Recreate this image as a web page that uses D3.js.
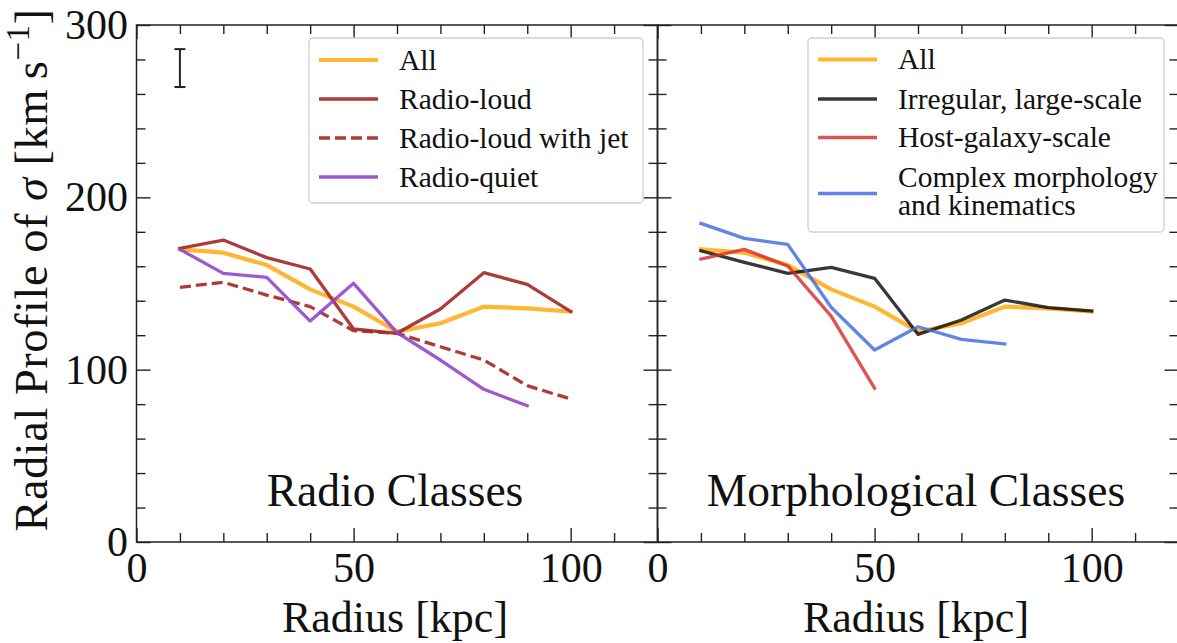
<!DOCTYPE html>
<html>
<head>
<meta charset="utf-8">
<script src="https://cdn.jsdelivr.net/npm/d3@7"></script>
<style>
  html, body { margin: 0; padding: 0; background: #fff; }
</style>
</head>
<body>
<svg id="chart" width="1177" height="643"></svg>
<script>
// ---------------- data ----------------
const radii = [10, 20, 30, 40, 50, 60, 70, 80, 90, 100];
const allSigma      = [169.8, 167.9, 160.7, 146.6, 136.6, 122.1, 126.9, 136.6, 135.6, 133.7];
const radioLoud     = [170.4, 175.2, 165.0, 158.4, 123.6, 121.1, 135.2, 156.3, 149.5, 133.7];
const radioLoudJet  = [147.8, 150.7, 143.3, 136.6, 122.6, 121.1, 113.3, 105.6, 90.7, 83.0];
const radioQuiet    = [169.8, 155.9, 153.6, 128.2, 150.1, 121.5, 105.6, 88.6, 79.1];
const irregular     = [169.0, 162.3, 155.9, 159.4, 153.0, 120.5, 128.8, 140.4, 136.0, 134.0];
const hostGalaxy    = [164.2, 169.8, 160.2, 131.1, 89.2];
const complexMorph  = [184.9, 176.2, 172.7, 136.2, 111.4, 124.9, 117.6, 114.9];

const leftLabels  = ["All", "Radio-loud", "Radio-loud with jet", "Radio-quiet"];
const rightLabels = ["All", "Irregular, large-scale", "Host-galaxy-scale", ["Complex morphology", "and kinematics"]];
const panelTitles = ["Radio Classes", "Morphological Classes"];
const xMajorTicks = [0, 50, 100];
const xMinorTicks = [10, 20, 30, 40, 60, 70, 80, 90, 110];
const yMajorTicks = [0, 100, 200, 300];
const yMinorTicks = [20, 40, 60, 80, 120, 140, 160, 180, 220, 240, 260, 280];
const errorBar = { x: 10, y: 275, half: 11 };

// ---------------- styles ----------------
const FONT = '"Liberation Serif"';
const styles = {
  all:   { color: "#FFA500", width: 4.2, opacity: 0.8, dash: null },
  loud:  { color: "#A52A2A", width: 3.3, opacity: 0.92, dash: null },
  jet:   { color: "#A52A2A", width: 3.3, opacity: 0.92, dash: "11,5" },
  quiet: { color: "#9148CC", width: 3.3, opacity: 0.9, dash: null },
  irr:   { color: "#000000", width: 3.3, opacity: 0.78, dash: null },
  host:  { color: "#D62728", width: 3.3, opacity: 0.8, dash: null },
  cplx:  { color: "#4169E1", width: 3.3, opacity: 0.82, dash: null }
};

const leftSeries = [
  { vals: allSigma, st: styles.all },
  { vals: radioLoud, st: styles.loud },
  { vals: radioLoudJet, st: styles.jet },
  { vals: radioQuiet, st: styles.quiet }
];
const rightSeries = [
  { vals: allSigma, st: styles.all },
  { vals: irregular, st: styles.irr },
  { vals: hostGalaxy, st: styles.host },
  { vals: complexMorph, st: styles.cplx }
];

const svg = d3.select("#chart");
svg.append("rect").attr("width", 1177).attr("height", 643).attr("fill", "#fff");

const yTop = 25, yBot = 542;
const y = d3.scaleLinear().domain([0, 300]).range([yBot, yTop]);
const panels = [
  { x0: 136.5, x1: 657.5, series: leftSeries, labels: leftLabels, styles: [styles.all, styles.loud, styles.jet, styles.quiet],
    legend: { x: 309, y: 38, w: 334, h: 165, rows: [60, 99, 138, 177] }, showYLabels: true, title: panelTitles[0] },
  { x0: 657.5, x1: 1178.5, series: rightSeries, labels: rightLabels, styles: [styles.all, styles.irr, styles.host, styles.cplx],
    legend: { x: 808, y: 38, w: 356, h: 194, rows: [59.5, 99, 137.5, 193.5] }, showYLabels: false, title: panelTitles[1] }
];

const axisColor = "#222";
const tickFont = 42;

function styleAxis(g) {
  g.select(".domain").remove();
  g.attr("font-family", null);
  g.selectAll(".tick line").attr("stroke", axisColor).attr("stroke-width", 1.4);
  g.selectAll(".tick text").attr("fill", "#111").style("font-family", FONT).style("font-size", tickFont + "px");
}

function txt(sel, size) {
  return sel.style("font-family", FONT).style("font-size", size + "px").attr("fill", "#111");
}

panels.forEach((p, pi) => {
  const x = d3.scaleLinear().domain([0, 120]).range([p.x0, p.x1]);
  const g = svg.append("g");

  // lines
  const line = d3.line().x((d, i) => x(radii[i])).y(d => y(d));
  p.series.forEach(s => {
    g.append("path")
      .attr("d", line(s.vals))
      .attr("fill", "none")
      .attr("stroke", s.st.color)
      .attr("stroke-opacity", s.st.opacity)
      .attr("stroke-width", s.st.width)
      .attr("stroke-linejoin", "round")
      .attr("stroke-linecap", s.st.dash ? "butt" : "square")
      .attr("stroke-dasharray", s.st.dash);
  });

  // axes ticks (inward on all sides)
  const bottomMajor = d3.axisBottom(x).tickValues(xMajorTicks).tickSize(-14).tickSizeOuter(0).tickPadding(10).tickFormat(d3.format("d"));
  const bottomMinor = d3.axisBottom(x).tickValues(xMinorTicks).tickSize(-9).tickSizeOuter(0).tickFormat("");
  const topMajor = d3.axisTop(x).tickValues(xMajorTicks).tickSize(-14).tickSizeOuter(0).tickFormat("");
  const topMinor = d3.axisTop(x).tickValues(xMinorTicks).tickSize(-9).tickSizeOuter(0).tickFormat("");
  const leftMajor = d3.axisLeft(y).tickValues(yMajorTicks).tickSize(-14).tickSizeOuter(0).tickPadding(8.5)
      .tickFormat(p.showYLabels ? d3.format("d") : "");
  const leftMinor = d3.axisLeft(y).tickValues(yMinorTicks).tickSize(-9).tickSizeOuter(0).tickFormat("");
  const rightMajor = d3.axisRight(y).tickValues(yMajorTicks).tickSize(-14).tickSizeOuter(0).tickFormat("");
  const rightMinor = d3.axisRight(y).tickValues(yMinorTicks).tickSize(-9).tickSizeOuter(0).tickFormat("");

  g.append("g").attr("transform", `translate(0,${yBot})`).call(bottomMajor).call(styleAxis);
  g.append("g").attr("transform", `translate(0,${yBot})`).call(bottomMinor).call(styleAxis);
  g.append("g").attr("transform", `translate(0,${yTop})`).call(topMajor).call(styleAxis);
  g.append("g").attr("transform", `translate(0,${yTop})`).call(topMinor).call(styleAxis);
  g.append("g").attr("transform", `translate(${p.x0},0)`).call(leftMajor).call(styleAxis);
  g.append("g").attr("transform", `translate(${p.x0},0)`).call(leftMinor).call(styleAxis);
  g.append("g").attr("transform", `translate(${p.x1},0)`).call(rightMajor).call(styleAxis);
  g.append("g").attr("transform", `translate(${p.x1},0)`).call(rightMinor).call(styleAxis);

  // spines
  g.append("rect").attr("x", p.x0).attr("y", yTop).attr("width", p.x1 - p.x0).attr("height", yBot - yTop)
    .attr("fill", "none").attr("stroke", axisColor).attr("stroke-width", 1.5);

  // panel title
  txt(g.append("text"), 45.5).attr("x", (p.x0 + p.x1) / 2 - 2).attr("y", 506).attr("text-anchor", "middle").text(p.title);

  // x axis label
  txt(g.append("text"), 44).attr("x", (p.x0 + p.x1) / 2 - 2).attr("y", 632).attr("text-anchor", "middle").text("Radius [kpc]");

  // legend
  const L = p.legend;
  const lg = g.append("g");
  lg.append("rect").attr("x", L.x).attr("y", L.y).attr("width", L.w).attr("height", L.h)
    .attr("rx", 4).attr("fill", "#fff").attr("fill-opacity", 0.8).attr("stroke", "#cfcfcf").attr("stroke-width", 1.3);
  p.labels.forEach((lab, i) => {
    const st = p.styles[i];
    const ly = L.rows[i];
    lg.append("line").attr("x1", L.x + 10).attr("x2", L.x + 69).attr("y1", ly).attr("y2", ly)
      .attr("stroke", st.color).attr("stroke-opacity", st.opacity).attr("stroke-width", st.width)
      .attr("stroke-dasharray", st.dash);
    if (Array.isArray(lab)) {
      lab.forEach((t, k) => {
        txt(lg.append("text"), 29.5).attr("x", L.x + 90).attr("y", ly - 6.5 + k * 27.5).text(t);
      });
    } else {
      txt(lg.append("text"), 29.5).attr("x", L.x + 90).attr("y", ly + 9.5).text(lab);
    }
  });

  // error bar (left panel only)
  if (pi === 0) {
    const ex = x(errorBar.x), e1 = y(errorBar.y + errorBar.half), e2 = y(errorBar.y - errorBar.half);
    const eg = g.append("g").attr("stroke", "#222").attr("stroke-width", 2);
    eg.append("line").attr("x1", ex).attr("x2", ex).attr("y1", e1).attr("y2", e2);
    eg.append("line").attr("x1", ex - 5.5).attr("x2", ex + 5.5).attr("y1", e1).attr("y2", e1);
    eg.append("line").attr("x1", ex - 5.5).attr("x2", ex + 5.5).attr("y1", e2).attr("y2", e2);
  }
});

// y-axis label
const yl = txt(svg.append("text"), 46.5).attr("transform", "translate(47,270) rotate(-90)")
  .attr("text-anchor", "middle").style("letter-spacing", "0.5px");
yl.append("tspan").text("Radial Profile of ");
yl.append("tspan").style("font-style", "italic").text("σ");
yl.append("tspan").text(" [km\u2009s");
yl.append("tspan").attr("dy", -18).style("font-size", "33px").text("−1");
yl.append("tspan").attr("dy", 18).text("]");
</script>
</body>
</html>
